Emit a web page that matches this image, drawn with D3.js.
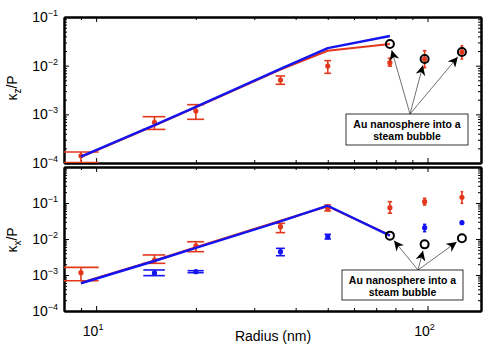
<!DOCTYPE html>
<html>
<head>
<meta charset="utf-8">
<script src="https://cdn.jsdelivr.net/npm/d3@7"></script>
<style>
  body { margin: 0; background: #fff; }
  svg { display: block; font-family: "Liberation Sans", Arial, sans-serif; }
  .axis path, .axis line { stroke: #000; }
  .axis path { stroke-width: 2; }
  .axis line { stroke-width: 1; }
</style>
</head>
<body>
<svg id="chart" width="485" height="344"></svg>
<script>
// radius (nm) of the measured nanospheres
var radius = [9, 15, 20, 36, 50, 77, 98, 127];
var theoryRadius = [9, 15, 20, 36, 50, 77];
var bubbleRadius = [77, 98, 127];

// top panel: kappa_z / P
var kzMeas   = [1.41e-4, 6.85e-4, 1.17e-3, 5.08e-3, 9.8e-3, 1.15e-2, 1.37e-2, 1.91e-2];
var kzMeasHi = [1.68e-4, 8.95e-4, 1.58e-3, 6.14e-3, 1.27e-2, 1.42e-2, 2.03e-2, 2.57e-2];
var kzMeasLo = [1.02e-4, 4.9e-4, 7.9e-4, 4.14e-3, 6.97e-3, 9.8e-3, 9.1e-3, 1.37e-2];
var kzTheoryRed  = [1.33e-4, 5.9e-4, 1.39e-3, 8.3e-3, 2.03e-2, 2.79e-2];
var kzTheoryBlue = [1.35e-4, 6.0e-4, 1.42e-3, 8.6e-3, 2.3e-2, 4.07e-2];
var kzBubble = [2.79e-2, 1.37e-2, 1.91e-2];

// bottom panel: kappa_x / P
var kxRed   = [1.16e-3, 2.61e-3, 6.5e-3, 2.2e-2, 7.1e-2, 7.4e-2, 0.109, 0.144];
var kxRedHi = [1.63e-3, 3.6e-3, 8.4e-3, 2.72e-2, 8.8e-2, 0.109, 0.135, 0.206];
var kxRedLo = [6.95e-4, 2.11e-3, 4.45e-3, 1.5e-2, 6.0e-2, 5.2e-2, 8.8e-2, 9.8e-2];
var kxBlueRadius = [15, 20, 36, 50, 98, 127];
var kxBlue   = [1.14e-3, 1.24e-3, 4.45e-3, 1.16e-2, 2.06e-2, 2.84e-2];
var kxBlueHi = [1.38e-3, 1.32e-3, 5.5e-3, 1.35e-2, 2.55e-2, 3.05e-2];
var kxBlueLo = [9.6e-4, 1.16e-3, 3.44e-3, 1.0e-2, 1.6e-2, 2.63e-2];
var kxTheoryRed  = [6.1e-4, 2.55e-3, 5.9e-3, 3.2e-2, 8.1e-2, 1.27e-2];
var kxTheoryBlue = [5.9e-4, 2.45e-3, 5.7e-3, 3.1e-2, 8.4e-2, 1.24e-2];
var kxBubble = [1.24e-2, 7.1e-3, 1.05e-2];

var xTicks = [10, 100];
var annotationLines = ["Au nanosphere into a", "steam bubble"];

var RED = "#e2381c", BLUE = "#1414f0";

var svg = d3.select("#chart");
var left = 64, right = 481;

var x = d3.scaleLog().domain([8, 145]).range([left, right]);

function minorTicks(lo, hi) {
    var out = [];
    for (var e = lo; e < hi; e++) {
        for (var m = 2; m <= 9; m++) out.push(m * Math.pow(10, e));
    }
    return out;
}

function sup(sel, base, exp) {
    sel.append("tspan").text(base);
    sel.append("tspan").attr("dy", -6).attr("font-size", 9).text(exp);
}

function makePanel(id, top, bottom, yDomain, yMajor, yLabelled, showX) {
    var y = d3.scaleLog().domain(yDomain).range([bottom, top]);
    var g = svg.append("g");

    svg.append("clipPath").attr("id", id)
        .append("rect").attr("x", left).attr("y", top)
        .attr("width", right - left).attr("height", bottom - top);

    var xMinor = [8, 9, 20, 30, 40, 50, 60, 70, 80, 90];
    var yMinor = minorTicks(Math.round(Math.log10(yDomain[0])), Math.round(Math.log10(yDomain[1])));

    var axes = [
        [d3.axisBottom(x), "translate(0," + bottom + ")", xTicks, xMinor],
        [d3.axisTop(x), "translate(0," + top + ")", xTicks, xMinor],
        [d3.axisLeft(y), "translate(" + left + ",0)", yMajor, yMinor],
        [d3.axisRight(y), "translate(" + right + ",0)", yMajor, yMinor]
    ];
    axes.forEach(function (a) {
        var scaleAxis = a[0];
        g.append("g").attr("class", "axis").attr("transform", a[1])
            .call(scaleAxis.tickValues(a[3]).tickSize(-3).tickSizeOuter(0).tickFormat(""));
        g.append("g").attr("class", "axis").attr("transform", a[1])
            .call(scaleAxis.tickValues(a[2]).tickSize(-5).tickSizeOuter(0).tickFormat(""));
    });

    // y tick labels as 10^n
    yLabelled.forEach(function (v) {
        var t = g.append("text").attr("x", left - 6).attr("y", y(v) + 5)
            .attr("text-anchor", "end").attr("font-size", 14);
        sup(t, "10", String(Math.round(Math.log10(v))).replace("-", "\u2212"));
    });

    if (showX) {
        xTicks.forEach(function (v) {
            var t = g.append("text").attr("x", x(v) - 3).attr("y", bottom + 25)
                .attr("text-anchor", "middle").attr("font-size", 14);
            sup(t, "10", String(Math.round(Math.log10(v))));
        });
    }

    var plot = svg.append("g").attr("clip-path", "url(#" + id + ")");
    return { y: y, plot: plot, top: top, bottom: bottom };
}

function errorBars(p, xs, vals, lo, hi, color) {
    var tee = (d3.max(xs) - d3.min(xs)) / 100;
    var grp = p.plot.append("g").attr("stroke", color).attr("stroke-width", 1.6).attr("fill", "none");
    xs.forEach(function (r, i) {
        grp.append("line").attr("x1", x(r)).attr("x2", x(r)).attr("y1", p.y(lo[i])).attr("y2", p.y(hi[i]));
        [lo[i], hi[i]].forEach(function (v) {
            grp.append("line").attr("x1", x(r - tee)).attr("x2", x(r + tee))
                .attr("y1", p.y(v)).attr("y2", p.y(v));
        });
    });
    p.plot.append("g").selectAll("circle").data(vals).enter().append("circle")
        .attr("cx", function (d, i) { return x(xs[i]); })
        .attr("cy", function (d) { return p.y(d); })
        .attr("r", 2.6).attr("fill", color);
}

function theoryLine(p, vals, color, width) {
    var line = d3.line()
        .x(function (d, i) { return x(theoryRadius[i]); })
        .y(function (d) { return p.y(d); });
    p.plot.append("path").datum(vals).attr("d", line)
        .attr("fill", "none").attr("stroke", color).attr("stroke-width", width)
        .attr("stroke-linejoin", "round");
}

function bubbles(p, vals) {
    p.plot.append("g").selectAll("circle").data(vals).enter().append("circle")
        .attr("cx", function (d, i) { return x(bubbleRadius[i]); })
        .attr("cy", function (d) { return p.y(d); })
        .attr("r", 4).attr("fill", "none").attr("stroke", "#000").attr("stroke-width", 2);
}

svg.append("defs").append("marker")
    .attr("id", "head").attr("viewBox", "0 0 10 10").attr("refX", 10).attr("refY", 5)
    .attr("markerWidth", 10).attr("markerHeight", 10).attr("markerUnits", "userSpaceOnUse")
    .attr("orient", "auto")
    .append("path").attr("d", "M0,0L10,5L0,10L3,5Z").attr("fill", "#000");

function annotate(p, boxX, boxY, boxW, boxH, originX, vals) {
    var oy = boxY;
    vals.forEach(function (v, i) {
        var cx = x(bubbleRadius[i]), cy = p.y(v);
        var dx = originX - cx, dy = oy - cy, len = Math.sqrt(dx * dx + dy * dy);
        svg.append("line").attr("x1", originX).attr("y1", oy)
            .attr("x2", cx + dx / len * 6.5).attr("y2", cy + dy / len * 6.5)
            .attr("stroke", "#333").attr("stroke-width", 0.7)
            .attr("marker-end", "url(#head)");
    });
    svg.append("rect").attr("x", boxX).attr("y", boxY).attr("width", boxW).attr("height", boxH)
        .attr("fill", "#fff").attr("stroke", "#000").attr("stroke-width", 0.8);
    annotationLines.forEach(function (s, i) {
        svg.append("text").attr("x", boxX + boxW / 2).attr("y", boxY + 14 + i * 12)
            .attr("text-anchor", "middle").attr("font-size", 10.5).attr("font-weight", "bold")
            .text(s);
    });
}

// top panel
var pz = makePanel("clipTop", 17, 163, [1e-4, 1e-1], [1e-4, 1e-3, 1e-2, 1e-1],
    [1e-4, 1e-3, 1e-2, 1e-1], false);
errorBars(pz, radius, kzMeas, kzMeasLo, kzMeasHi, RED);
theoryLine(pz, kzTheoryRed, RED, 2);
theoryLine(pz, kzTheoryBlue, BLUE, 2.4);
bubbles(pz, kzBubble);
annotate(pz, 346, 114, 122, 31, 410, kzBubble);

// bottom panel
var px = makePanel("clipBottom", 167, 311, [1e-4, 1], [1e-4, 1e-3, 1e-2, 1e-1, 1],
    [1e-4, 1e-3, 1e-2, 1e-1], true);
errorBars(px, radius, kxRed, kxRedLo, kxRedHi, RED);
errorBars(px, kxBlueRadius, kxBlue, kxBlueLo, kxBlueHi, BLUE);
theoryLine(px, kxTheoryRed, RED, 2);
theoryLine(px, kxTheoryBlue, BLUE, 2.4);
bubbles(px, kxBubble);
annotate(px, 342, 270, 121, 30, 418, kxBubble);

// axis titles
function yTitle(cy, sub) {
    var t = svg.append("text").attr("transform", "translate(17," + cy + ") rotate(-90)")
        .attr("text-anchor", "middle").attr("font-size", 14);
    t.append("tspan").text("\u03ba");
    t.append("tspan").attr("dy", 4).attr("font-size", 10).text(sub);
    t.append("tspan").attr("dy", -4).text("/P");
}
yTitle(88, "z");
yTitle(240, "x");

svg.append("text").attr("x", 273).attr("y", 341).attr("text-anchor", "middle")
    .attr("font-size", 14).text("Radius (nm)");
</script>
</body>
</html>
